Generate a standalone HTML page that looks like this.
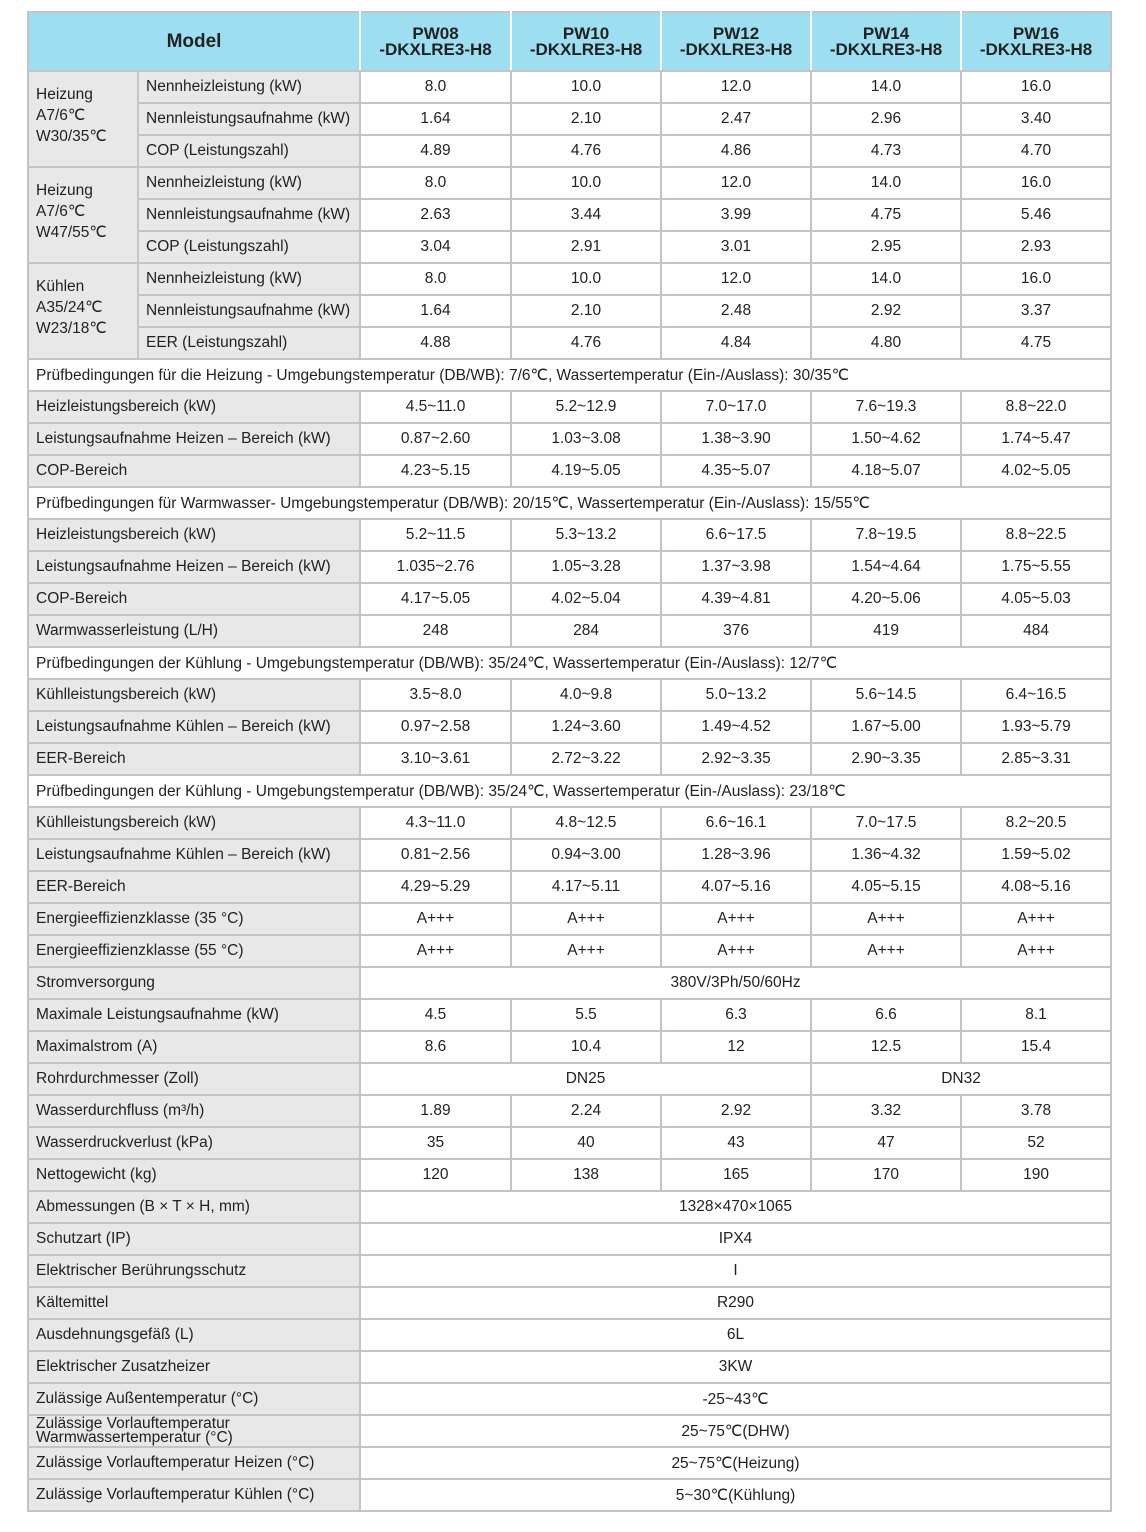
<!DOCTYPE html>
<html><head><meta charset="utf-8">
<style>
html,body{margin:0;padding:0;background:#fff;width:1146px;height:1532px;overflow:hidden}
table{position:absolute;left:27px;top:11px;border-collapse:collapse;table-layout:fixed;width:1083px;font-family:"Liberation Sans",sans-serif;font-size:15.5px;color:#222}
td,th{border:2px solid #c4c4c8;padding:0 0 0 7px;white-space:nowrap;overflow:hidden}
th{background:#9ddff0;font-weight:bold;font-size:17px;line-height:16px;text-align:center;padding:0;border-color:#c4c4c8;border-right-color:#fff}
th:last-child{border-right-color:#c4c4c8}
tr{height:32px}
tr.h{height:59px}
td.l{background:#e8e8e8}
td.v{text-align:center;padding:0}
td.g{background:#e8e8e8;vertical-align:top;padding-top:12px;line-height:21px;white-space:normal}
td.s{background:#fff}
td.tw{line-height:14px}
</style></head><body>
<table id="t">
<colgroup><col style="width:110px"><col style="width:222px"><col style="width:151px"><col style="width:150px"><col style="width:150px"><col style="width:150px"><col style="width:150px"></colgroup>
<tr class="h"><th colspan="2" style="font-size:19px">Model</th><th>PW08<br>-DKXLRE3-H8</th><th>PW10<br>-DKXLRE3-H8</th><th>PW12<br>-DKXLRE3-H8</th><th>PW14<br>-DKXLRE3-H8</th><th>PW16<br>-DKXLRE3-H8</th></tr>
</table>
<script>
const groups=[
 ["Heizung<br>A7/6℃<br>W30/35℃",[["Nennheizleistung (kW)",["8.0","10.0","12.0","14.0","16.0"]],["Nennleistungsaufnahme (kW)",["1.64","2.10","2.47","2.96","3.40"]],["COP (Leistungszahl)",["4.89","4.76","4.86","4.73","4.70"]]]],
 ["Heizung<br>A7/6℃<br>W47/55℃",[["Nennheizleistung (kW)",["8.0","10.0","12.0","14.0","16.0"]],["Nennleistungsaufnahme (kW)",["2.63","3.44","3.99","4.75","5.46"]],["COP (Leistungszahl)",["3.04","2.91","3.01","2.95","2.93"]]]],
 ["Kühlen<br>A35/24℃<br>W23/18℃",[["Nennheizleistung (kW)",["8.0","10.0","12.0","14.0","16.0"]],["Nennleistungsaufnahme (kW)",["1.64","2.10","2.48","2.92","3.37"]],["EER (Leistungszahl)",["4.88","4.76","4.84","4.80","4.75"]]]]
];
const rows=[
 ["s","Prüfbedingungen für die Heizung - Umgebungstemperatur (DB/WB): 7/6℃, Wassertemperatur (Ein-/Auslass): 30/35℃"],
 ["f","Heizleistungsbereich (kW)",["4.5~11.0","5.2~12.9","7.0~17.0","7.6~19.3","8.8~22.0"]],
 ["f","Leistungsaufnahme Heizen – Bereich (kW)",["0.87~2.60","1.03~3.08","1.38~3.90","1.50~4.62","1.74~5.47"]],
 ["f","COP-Bereich",["4.23~5.15","4.19~5.05","4.35~5.07","4.18~5.07","4.02~5.05"]],
 ["s","Prüfbedingungen für Warmwasser- Umgebungstemperatur (DB/WB): 20/15℃, Wassertemperatur (Ein-/Auslass): 15/55℃"],
 ["f","Heizleistungsbereich (kW)",["5.2~11.5","5.3~13.2","6.6~17.5","7.8~19.5","8.8~22.5"]],
 ["f","Leistungsaufnahme Heizen – Bereich (kW)",["1.035~2.76","1.05~3.28","1.37~3.98","1.54~4.64","1.75~5.55"]],
 ["f","COP-Bereich",["4.17~5.05","4.02~5.04","4.39~4.81","4.20~5.06","4.05~5.03"]],
 ["f","Warmwasserleistung (L/H)",["248","284","376","419","484"]],
 ["s","Prüfbedingungen der Kühlung - Umgebungstemperatur (DB/WB): 35/24℃, Wassertemperatur (Ein-/Auslass): 12/7℃"],
 ["f","Kühlleistungsbereich (kW)",["3.5~8.0","4.0~9.8","5.0~13.2","5.6~14.5","6.4~16.5"]],
 ["f","Leistungsaufnahme Kühlen – Bereich (kW)",["0.97~2.58","1.24~3.60","1.49~4.52","1.67~5.00","1.93~5.79"]],
 ["f","EER-Bereich",["3.10~3.61","2.72~3.22","2.92~3.35","2.90~3.35","2.85~3.31"]],
 ["s","Prüfbedingungen der Kühlung - Umgebungstemperatur (DB/WB): 35/24℃, Wassertemperatur (Ein-/Auslass): 23/18℃"],
 ["f","Kühlleistungsbereich (kW)",["4.3~11.0","4.8~12.5","6.6~16.1","7.0~17.5","8.2~20.5"]],
 ["f","Leistungsaufnahme Kühlen – Bereich (kW)",["0.81~2.56","0.94~3.00","1.28~3.96","1.36~4.32","1.59~5.02"]],
 ["f","EER-Bereich",["4.29~5.29","4.17~5.11","4.07~5.16","4.05~5.15","4.08~5.16"]],
 ["f","Energieeffizienzklasse (35 °C)",["A+++","A+++","A+++","A+++","A+++"]],
 ["f","Energieeffizienzklasse (55 °C)",["A+++","A+++","A+++","A+++","A+++"]],
 ["m","Stromversorgung","380V/3Ph/50/60Hz"],
 ["f","Maximale Leistungsaufnahme (kW)",["4.5","5.5","6.3","6.6","8.1"]],
 ["f","Maximalstrom (A)",["8.6","10.4","12","12.5","15.4"]],
 ["d","Rohrdurchmesser (Zoll)",["DN25","DN32"]],
 ["f","Wasserdurchfluss (m³/h)",["1.89","2.24","2.92","3.32","3.78"]],
 ["f","Wasserdruckverlust (kPa)",["35","40","43","47","52"]],
 ["f","Nettogewicht (kg)",["120","138","165","170","190"]],
 ["m","Abmessungen (B × T × H, mm)","1328×470×1065"],
 ["m","Schutzart (IP)","IPX4"],
 ["m","Elektrischer Berührungsschutz","I"],
 ["m","Kältemittel","R290"],
 ["m","Ausdehnungsgefäß (L)","6L"],
 ["m","Elektrischer Zusatzheizer","3KW"],
 ["m","Zulässige Außentemperatur (°C)","-25~43℃"],
 ["w","Zulässige Vorlauftemperatur<br>Warmwassertemperatur (°C)","25~75℃(DHW)"],
 ["m","Zulässige Vorlauftemperatur Heizen (°C)","25~75℃(Heizung)"],
 ["m","Zulässige Vorlauftemperatur Kühlen (°C)","5~30℃(Kühlung)"]
];
const t=document.getElementById('t');
function cell(tr,cls,html,span){const td=document.createElement('td');td.className=cls;td.innerHTML=html;if(span)td.colSpan=span;


tr.appendChild(td);return td;}
groups.forEach(g=>{g[1].forEach((r,i)=>{const tr=document.createElement('tr');


if(i===0){const td=cell(tr,'g',g[0]);td.rowSpan=3;}
cell(tr,'l',r[0]);r[1].forEach(v=>cell(tr,'v',v));t.appendChild(tr);});});
rows.forEach(r=>{const tr=document.createElement('tr');


if(r[0]==='s'){cell(tr,'s',r[1],7);}
else{const lc=cell(tr,'l'+(r[0]==='w'?' tw':''),r[1],2);
if(r[0]==='f')r[2].forEach(v=>cell(tr,'v',v));
else if(r[0]==='d'){cell(tr,'v',r[2][0],3);cell(tr,'v',r[2][1],2);}
else cell(tr,'v',r[2],5);}
t.appendChild(tr);});
</script>
</body></html>
